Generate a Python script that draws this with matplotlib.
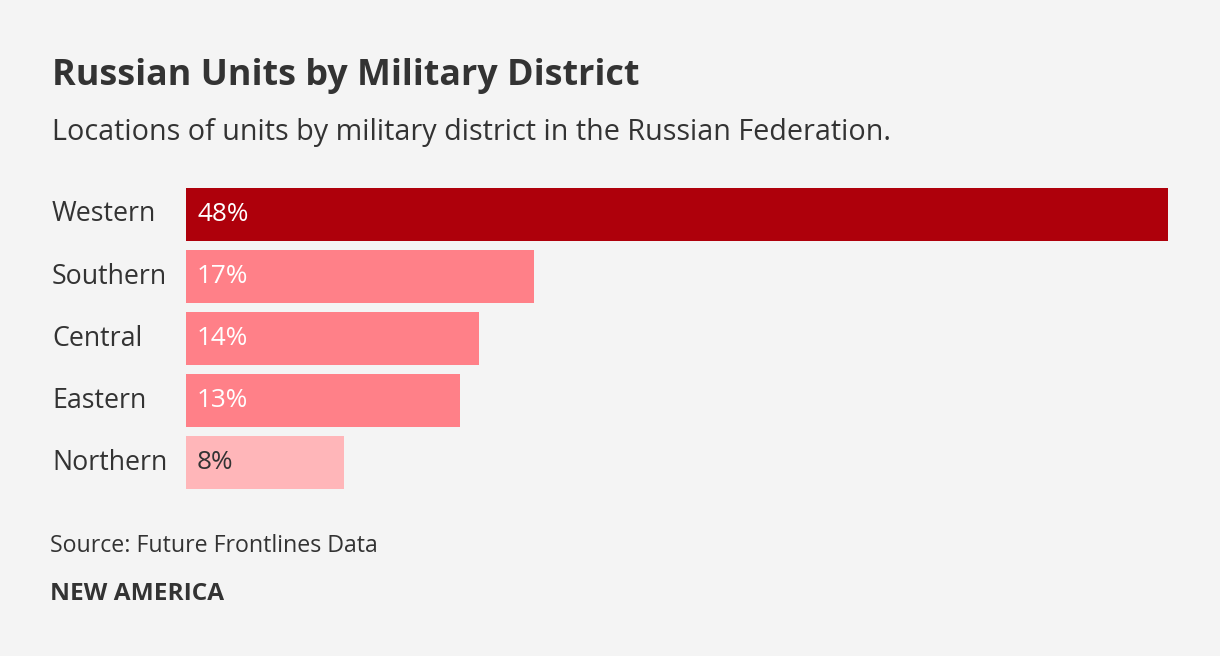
import matplotlib
matplotlib.use("Agg")
import matplotlib.pyplot as plt

categories = ["Western", "Southern", "Central", "Eastern", "Northern"]
values = [48, 17.0, 14.3, 13.4, 7.7]
value_labels = ["48%", "17%", "14%", "13%", "8%"]
bar_colors = ["#AE000B", "#FF8088", "#FF8088", "#FF8088", "#FFB6B9"]
label_colors = ["white", "white", "white", "white", "#333333"]

title = "Russian Units by Military District"
subtitle = "Locations of units by military district in the Russian Federation."
source = "Source: Future Frontlines Data"
brand = "NEW AMERICA"

W, H = 1220, 656
BG = "#F4F4F4"
TXT = "#333333"
FONT = "Open Sans"

fig = plt.figure(figsize=(W / 100, H / 100), dpi=100, facecolor=BG)

left, right = 186, 1168
top, bottom = 188, 489
ax = fig.add_axes([left / W, 1 - bottom / H, (right - left) / W, (bottom - top) / H])
ax.set_facecolor(BG)

bh = 53 / 62
ypos = list(range(len(categories)))
ax.barh(ypos, values, height=bh, color=bar_colors, linewidth=0)
ax.set_xlim(0, max(values))
ax.set_ylim(len(categories) - 1 + bh / 2, -bh / 2)
ax.axis("off")

for y, lab, c in zip(ypos, value_labels, label_colors):
    ax.annotate(lab, xy=(0, y), xytext=(8, 0), textcoords="offset points",
                ha="left", va="center", color=c, fontsize=18.8, family=FONT)

for y, cat in zip(ypos, categories):
    yf = 1 - (top + (y + 0.5) * 62 - (62 - 53) / 2) / H
    fig.text(52 / W, yf, cat, ha="left", va="center", color=TXT, fontsize=19.3, family=FONT)

fig.text(52 / W, 1 - 85 / H, title, ha="left", va="baseline", color=TXT,
         fontsize=25.8, fontweight="bold", family=FONT)
fig.text(52 / W, 1 - 140 / H, subtitle, ha="left", va="baseline", color=TXT,
         fontsize=20.7, family=FONT)
fig.text(50 / W, 1 - 552 / H, source, ha="left", va="baseline", color=TXT,
         fontsize=16.7, family=FONT)
fig.text(50 / W, 1 - 600 / H, brand, ha="left", va="baseline", color=TXT,
         fontsize=17.6, fontweight="bold", family=FONT)

fig.savefig("out.png", dpi=100, facecolor=BG)
